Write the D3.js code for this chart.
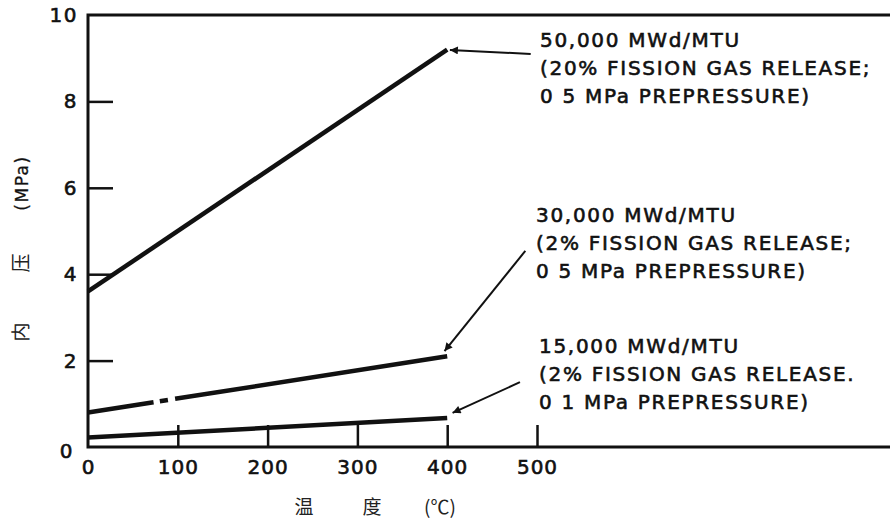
<!DOCTYPE html>
<html>
<head>
<meta charset="utf-8">
<script src="https://cdn.jsdelivr.net/npm/d3@7"></script>
<style>
  body { margin: 0; background: #fff; }
  svg { display: block; }
  .mono { font-family: "DejaVu Sans", sans-serif; fill: #111; stroke: #111; stroke-width: 0.6px; }
  .cjk { font-family: "Noto Sans CJK SC", sans-serif; fill: #222; }
</style>
</head>
<body>
<div id="chart"></div>
<script>
// series: internal pressure (MPa) vs temperature (C)
const burnups = ["50,000 MWd/MTU", "30,000 MWd/MTU", "15,000 MWd/MTU"];
const temps = [0, 400];
const pressure50k = [3.6, 9.2];
const pressure30k = [0.8, 2.1];
const pressure15k = [0.22, 0.67];
const gaps30k = [[73, 80], [89, 97]]; // broken bits of the 30,000 line (in C)

const notes = [
  ["50,000 MWd/MTU", "(20% FISSION GAS RELEASE;", "0 5 MPa PREPRESSURE)"],
  ["30,000 MWd/MTU", "(2% FISSION GAS RELEASE;", "0 5 MPa PREPRESSURE)"],
  ["15,000 MWd/MTU", "(2% FISSION GAS RELEASE.", "0 1 MPa PREPRESSURE)"]
];
// arrow head / tail, in data units
const arrowHeads = [[403, 9.19], [397, 2.22], [406, 0.79]];
const arrowTails = [[493, 9.1], [487, 4.54], [481, 1.5]];

const xTicks = [0, 100, 200, 300, 400, 500];
const yTicks = [0, 2, 4, 6, 8, 10];

var width = 890, height = 519;

var svg = d3.select("#chart").append("svg")
    .attr("width", width)
    .attr("height", height);

var x = d3.scaleLinear().domain([0, 500]).range([88, 537]);
var y = d3.scaleLinear().domain([0, 10]).range([447, 15]);

// frame: left axis, top line, bottom line (no right border)
svg.append("path")
    .attr("d", "M" + width + "," + y(10) + "H" + x(0) + "V" + y(0) + "H" + width)
    .attr("fill", "none")
    .attr("stroke", "#111")
    .attr("stroke-width", 3);

// x axis, ticks pointing up into the plot
var xAxis = svg.append("g")
    .attr("transform", "translate(0," + y(0) + ")")
    .call(d3.axisBottom(x).tickValues(xTicks).tickSize(-22).tickPadding(13).tickSizeOuter(0));
xAxis.select(".domain").remove();
xAxis.selectAll(".tick line")
    .attr("stroke", "#111")
    .attr("stroke-width", 2.5)
    .attr("opacity", (d) => d == 0 ? 0 : 1);
xAxis.selectAll(".tick text")
    .attr("class", "mono")
    .style("font-size", "20px")
    .style("letter-spacing", "1px");

// y axis, ticks pointing right
var yAxis = svg.append("g")
    .attr("transform", "translate(" + x(0) + ",0)")
    .call(d3.axisLeft(y).tickValues(yTicks).tickSize(-25).tickPadding(10).tickSizeOuter(0));
yAxis.select(".domain").remove();
yAxis.selectAll(".tick line")
    .attr("stroke", "#111")
    .attr("stroke-width", 2.5)
    .attr("opacity", (d) => (d == 0 || d == 10) ? 0 : 1);
yAxis.selectAll(".tick text")
    .attr("class", "mono")
    .style("font-size", "20px")
    .style("letter-spacing", "1.5px");
yAxis.selectAll(".tick text").filter((d) => d == 0).attr("dy", "0.5em").attr("x", -14);

// curves
var line = d3.line()
    .x((d) => x(d[0]))
    .y((d) => y(d[1]));

var series = [pressure50k, pressure30k, pressure15k];
var paths = svg.selectAll(".curve")
    .data(series)
    .enter().append("path")
    .attr("class", "curve")
    .attr("d", (d) => line(temps.map((t, i) => [t, d[i]])))
    .attr("fill", "none")
    .attr("stroke", "#111")
    .attr("stroke-width", 4.5)
    .attr("stroke-linecap", "butt");

// the 30,000 line has a couple of breaks
var p30 = paths.filter((d, i) => i == 1).node();
var len = p30.getTotalLength();
var span = temps[1] - temps[0];
var dash = [], last = 0;
gaps30k.forEach(function(g) {
    dash.push((g[0] - last) / span * len, (g[1] - g[0]) / span * len);
    last = g[1];
});
dash.push(len);
d3.select(p30).attr("stroke-dasharray", dash.join(","));

// arrows
svg.append("defs").append("marker")
    .attr("id", "head")
    .attr("viewBox", "0 0 10 10")
    .attr("refX", 10)
    .attr("refY", 5)
    .attr("markerUnits", "userSpaceOnUse")
    .attr("markerWidth", 11)
    .attr("markerHeight", 8)
    .attr("orient", "auto")
    .append("path")
    .attr("d", "M0,0L10,5L0,10z")
    .attr("fill", "#111");

svg.selectAll(".arrow")
    .data(arrowHeads)
    .enter().append("line")
    .attr("class", "arrow")
    .attr("x1", (d, i) => x(arrowTails[i][0]))
    .attr("y1", (d, i) => y(arrowTails[i][1]))
    .attr("x2", (d) => x(d[0]))
    .attr("y2", (d) => y(d[1]))
    .attr("stroke", "#111")
    .attr("stroke-width", 2)
    .attr("marker-end", "url(#head)");

// annotation blocks
var noteX = [540, 536, 539];
var noteY = [47, 222, 353];
var blocks = svg.selectAll(".note")
    .data(notes)
    .enter().append("text")
    .attr("class", "note mono")
    .style("font-size", "20px")
    .style("letter-spacing", "1.7px");

blocks.selectAll("tspan")
    .data((d, i) => d.map((s) => ({s: s, i: i})))
    .enter().append("tspan")
    .attr("x", (d) => noteX[d.i])
    .attr("y", (d, j) => noteY[d.i] + j * 28)
    .text((d) => d.s);

// axis titles
var yTitle = [["内", 332], ["压", 263], ["(MPa)", 183]];
svg.selectAll(".ytitle")
    .data(yTitle)
    .enter().append("text")
    .attr("class", (d, i) => i == 2 ? "ytitle mono" : "ytitle cjk")
    .attr("transform", (d) => "translate(28," + d[1] + ") rotate(-90)")
    .style("text-anchor", "middle")
    .style("font-size", (d, i) => i == 2 ? "17px" : "19px")
    .style("stroke-width", "0.3px")
    .style("letter-spacing", (d, i) => i == 2 ? "1.5px" : "0px")
    .text((d) => d[0]);

var xTitle = [["温", 304], ["度", 372], ["(℃)", 440]];
svg.selectAll(".xtitle")
    .data(xTitle)
    .enter().append("text")
    .attr("class", "xtitle cjk")
    .attr("x", (d) => d[1])
    .attr("y", 514)
    .style("text-anchor", "middle")
    .style("font-size", "19px")
    .text((d) => d[0]);
</script>
</body>
</html>
